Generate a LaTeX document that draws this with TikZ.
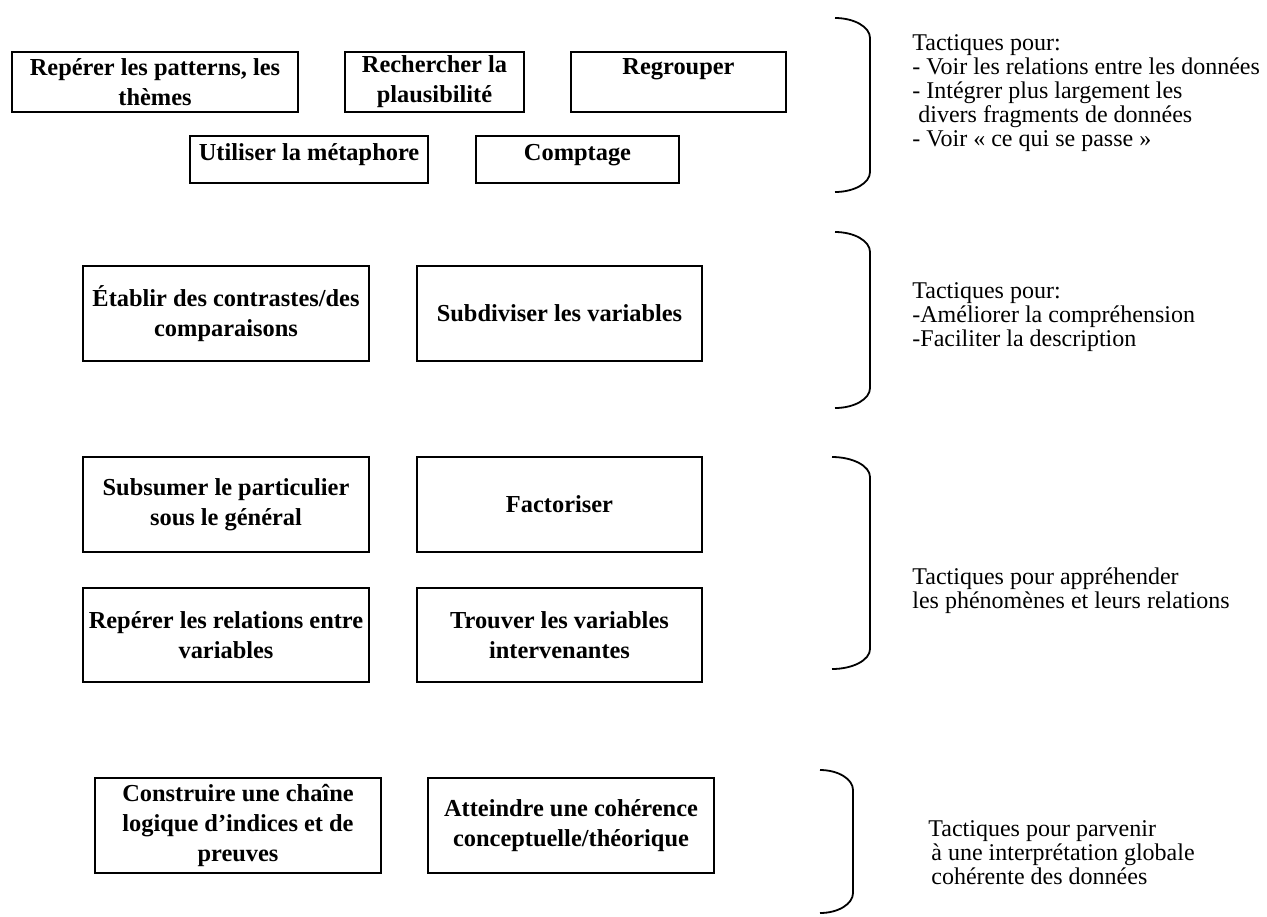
\documentclass[tikz,border=0pt]{standalone}
\usepackage{fontspec}
\setmainfont{Liberation Serif}
\newcommand\tacbrk[4]{%
  \draw[brk] (#1,#3) .. controls ({#1+0.55*(#2-#1)},#3) and (#2,{#3+9}) .. (#2,{#3+20})
    -- (#2,{#4-20}) .. controls (#2,{#4-9}) and ({#1+0.55*(#2-#1)},#4) .. (#1,#4);}
\begin{document}
\begin{tikzpicture}[x=0.5pt,y=-0.5pt,
  box/.style={draw, line width=0.9pt, inner sep=0pt, align=center,
    font=\fontsize{12.2pt}{15pt}\selectfont\bfseries},
  sz/.style 2 args={minimum width={#1*0.5pt}, minimum height={#2*0.5pt}},
  side/.style={anchor=base west, inner sep=0pt, align=left,
    font=\fontsize{12pt}{11.9pt}\selectfont},
  brk/.style={line width=0.9pt}]
\useasboundingbox (0,0) rectangle (1267,916);
% row 1
\node[box, sz={286}{60}] (a) at (155,82) {Repérer les patterns, les\\thèmes};
\node[box, sz={179}{60}] (b) at (434.5,82) {Rechercher la\\plausibilité};
\node[box, sz={215}{60}] (c) at (678.5,82) {Regrouper\\\phantom{R}};
\node[box, sz={238}{47}, text height=7pt, text depth=6.5pt] (d) at (309,159.5) {Utiliser la métaphore};
\node[box, sz={203}{47}, text height=7pt, text depth=6.5pt] (e) at (577.5,159.5) {Comptage};
% row 2
\node[box, sz={286}{95}] (f) at (226,313.5) {Établir des contrastes/des\\comparaisons};
\node[box, sz={285}{95}] (g) at (559.5,313.5) {Subdiviser les variables};
% row 3
\node[box, sz={286}{95}] (h) at (226,504.5) {Subsumer le particulier\\sous le général};
\node[box, sz={285}{95}] (i) at (559.5,504.5) {Factoriser};
\node[box, sz={286}{94}] (j) at (226,635) {Repérer les relations entre\\variables};
\node[box, sz={285}{94}] (k) at (559.5,635) {Trouver les variables\\intervenantes};
% row 4
\node[box, sz={286}{95}] (l) at (238,825.5) {Construire une chaîne\\logique d’indices et de\\preuves};
\node[box, sz={286}{95}] (m) at (571,825.5) {Atteindre une cohérence\\conceptuelle/théorique};
% brackets
\tacbrk{835}{870}{18}{192}
\tacbrk{835}{870}{232}{408}
\tacbrk{832}{870}{457}{669}
\tacbrk{820}{853}{770}{913}
% side texts (anchored at the baseline of their last line)
\node[side] (t1) at (912,146) {Tactiques pour:\\- Voir les relations entre les données\\- Intégrer plus largement les\\\hspace*{3pt}divers fragments de données\\- Voir «~ce qui se passe~»};
\node[side] (t2) at (912,346) {Tactiques pour:\\-Améliorer la compréhension\\-Faciliter la description};
\node[side] (t3) at (912,608) {Tactiques pour appréhender\\les phénomènes et leurs relations};
\node[side] (t4) at (928,884) {Tactiques pour parvenir\\\hspace*{1.5pt}à une interprétation globale\\\hspace*{1.5pt}cohérente des données};
\end{tikzpicture}
\end{document}
